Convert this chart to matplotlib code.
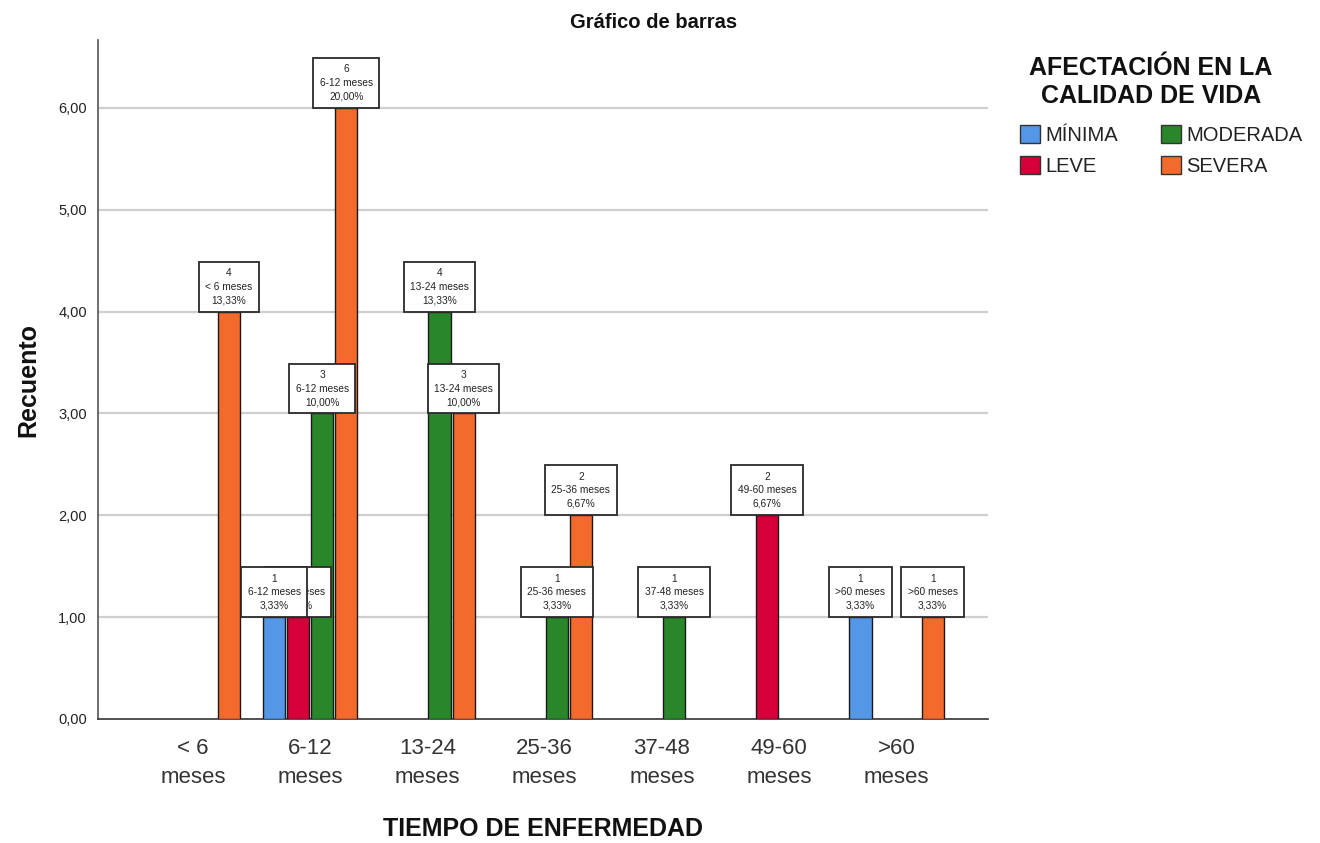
import matplotlib
matplotlib.use("Agg")
import matplotlib.pyplot as plt
from matplotlib.patches import Patch
import numpy as np

plt.rcParams['font.family'] = ['Liberation Sans', 'DejaVu Sans']

categories = ["< 6\nmeses", "6-12\nmeses", "13-24\nmeses", "25-36\nmeses", "37-48\nmeses", "49-60\nmeses", ">60\nmeses"]
cat_names = ["< 6 meses", "6-12 meses", "13-24 meses", "25-36 meses", "37-48 meses", "49-60 meses", ">60 meses"]
series = ["MÍNIMA", "LEVE", "MODERADA", "SEVERA"]
minima = [0, 1, 0, 0, 0, 0, 1]
leve = [0, 1, 0, 0, 0, 2, 0]
moderada = [0, 3, 4, 1, 1, 0, 0]
severa = [4, 6, 3, 2, 0, 0, 1]
total = 30
colors = ["#5497E6", "#D5003A", "#2A862A", "#F26A2C"]
yticks = [0, 1, 2, 3, 4, 5, 6]

data = [minima, leve, moderada, severa]

fig = plt.figure(figsize=(13.2, 8.43), dpi=100)
ax = fig.add_axes([0.0742, 0.1471, 0.6743, 0.8055])

x = np.arange(len(categories))
width = 0.188
offsets = [-1.5, -0.5, 0.5, 1.5]
step = 0.205

for si, (vals, col) in enumerate(zip(data, colors)):
    for ci, v in enumerate(vals):
        if v <= 0:
            continue
        xc = x[ci] + offsets[si] * step
        ax.bar(xc, v, width=width, color=col, edgecolor="#1a1a1a", linewidth=1.0, zorder=3)
        pct = v / total * 100
        txt = f"{v}\n{cat_names[ci]}\n{pct:.2f}%".replace(".", ",")
        ax.annotate(txt, xy=(xc, v), xytext=(0, 4.6), textcoords="offset points",
                    ha="center", va="bottom", fontsize=7.3, color="#222222",
                    linespacing=1.45,
                    bbox=dict(boxstyle="square,pad=0.63", fc="white", ec="#2a2a2a", lw=1.3),
                    zorder=10 - si)

ax.set_xlim(-0.81, 6.78)
ax.set_ylim(0, 6.668)
ax.set_yticks(yticks)
ax.set_yticklabels([f"{t:.2f}".replace(".", ",") for t in yticks], fontsize=10.5, color="#222222")
ax.set_xticks(x)
ax.set_xticklabels(categories, fontsize=16, color="#333333", linespacing=1.45)
ax.tick_params(axis="both", length=0)
ax.tick_params(axis="x", pad=14)
ax.tick_params(axis="y", pad=8)
for yv in yticks[1:]:
    ax.axhline(yv, color="#cfcfcf", lw=1.6, zorder=1)
for s in ["top", "right"]:
    ax.spines[s].set_visible(False)
ax.spines["left"].set_color("#555555")
ax.spines["bottom"].set_color("#333333")
ax.spines["left"].set_linewidth(1.2)
ax.spines["bottom"].set_linewidth(1.2)

fig.text(28 / 1320, 1 - 380 / 843, "Recuento", rotation=90, ha="center", va="center",
         fontsize=18, fontweight="bold", color="#111111")
fig.text(543 / 1320, 1 - 829 / 843, "TIEMPO DE ENFERMEDAD", ha="center", va="center",
         fontsize=18, fontweight="bold", color="#111111")
fig.text(654 / 1320, 1 - 22 / 843, "Gráfico de barras", ha="center", va="center",
         fontsize=14.5, fontweight="bold", color="#111111")

fig.text(1151 / 1320, 1 - 82 / 843, "AFECTACIÓN EN LA\nCALIDAD DE VIDA", ha="center", va="center",
         fontsize=18, fontweight="bold", color="#111111", linespacing=1.2)

handles = [Patch(facecolor=c, edgecolor="#333333", lw=1.0) for c in colors]
leg = fig.legend(handles, series, loc="upper left", bbox_to_anchor=(1016 / 1320, 1 - 121 / 843), ncol=2,
                 frameon=False, fontsize=14.5, borderaxespad=0, borderpad=0.2,
                 handlelength=1.0, handleheight=1.0, handletextpad=0.25, columnspacing=2.15,
                 labelspacing=0.55)
for t in leg.get_texts():
    t.set_color("#222222")

fig.savefig("out.png", dpi=100)
